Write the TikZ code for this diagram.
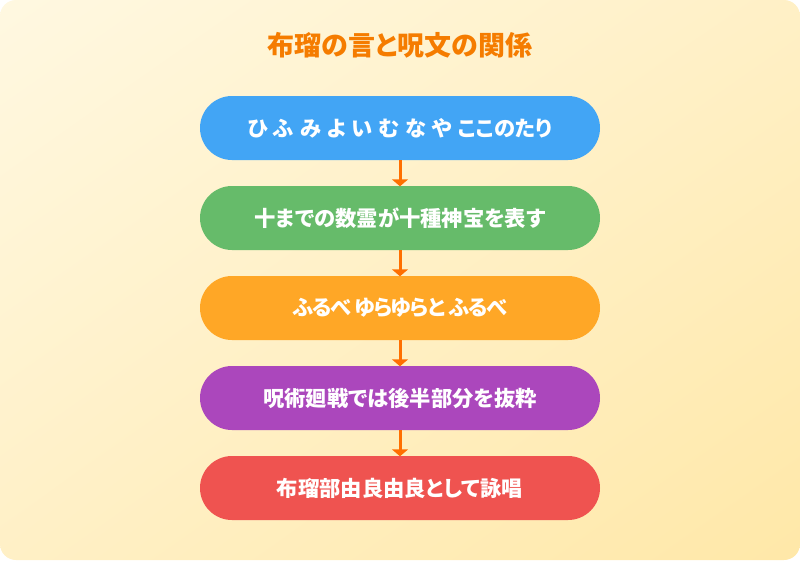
\documentclass[tikz,border=0pt]{standalone}
\usepackage{fontspec}
\setmainfont{Noto Sans CJK JP}[RawFeature=+palt, WordSpace=1.2]
\usetikzlibrary{arrows.meta,shadings}
\definecolor{bgA}{HTML}{FFF8E1}
\definecolor{bgB}{HTML}{FFE8A8}
\definecolor{bgM}{HTML}{FFF0C6}
\definecolor{titleC}{HTML}{F57C00}
\definecolor{arrowC}{HTML}{FF6F00}
\definecolor{cBlue}{HTML}{42A5F5}
\definecolor{cGreen}{HTML}{66BB6A}
\definecolor{cOrange}{HTML}{FFA726}
\definecolor{cPurple}{HTML}{AB47BC}
\definecolor{cRed}{HTML}{EF5350}
\tikzset{
  pill/.style={draw=none, rounded corners=32pt, minimum width=400pt, minimum height=64pt,
    inner sep=0pt, text=white, font=\fontsize{21.3}{24}\selectfont\bfseries},
  flowarrow/.style={draw=arrowC, line width=3pt, -{Triangle[width=16pt,length=7pt]}, shorten >=-0.5pt}
}
\begin{document}
\begin{tikzpicture}[x=1pt,y=-1pt]
\useasboundingbox (0,0) rectangle (800,560);
\begin{scope}
\clip[rounded corners=16pt] (0,0) rectangle (800,560);
\shade[upper left=bgA, lower right=bgB, upper right=bgM, lower left=bgM] (0,0) rectangle (800,560);
\end{scope}
\node[text=titleC, font=\fontsize{27}{30}\selectfont\bfseries] (title) at (400,45) {布瑠の言と呪文の関係};
\node[pill, fill=cBlue] (b1) at (400,128) {ひ ふ み よ い む な や ここのたり};
\node[pill, fill=cGreen] (b2) at (400,218) {十までの数霊が十種神宝を表す};
\node[pill, fill=cOrange] (b3) at (400,308) {\addfontfeature{LetterSpace=-8}ふるべ ゆらゆらと ふるべ};
\node[pill, fill=cPurple] (b4) at (400,398) {呪術廻戦では後半部分を抜粋};
\node[pill, fill=cRed] (b5) at (400,488) {布瑠部由良由良として詠唱};
\draw[flowarrow] (b1) -- (b2);
\draw[flowarrow] (b2) -- (b3);
\draw[flowarrow] (b3) -- (b4);
\draw[flowarrow] (b4) -- (b5);
\end{tikzpicture}
\end{document}
